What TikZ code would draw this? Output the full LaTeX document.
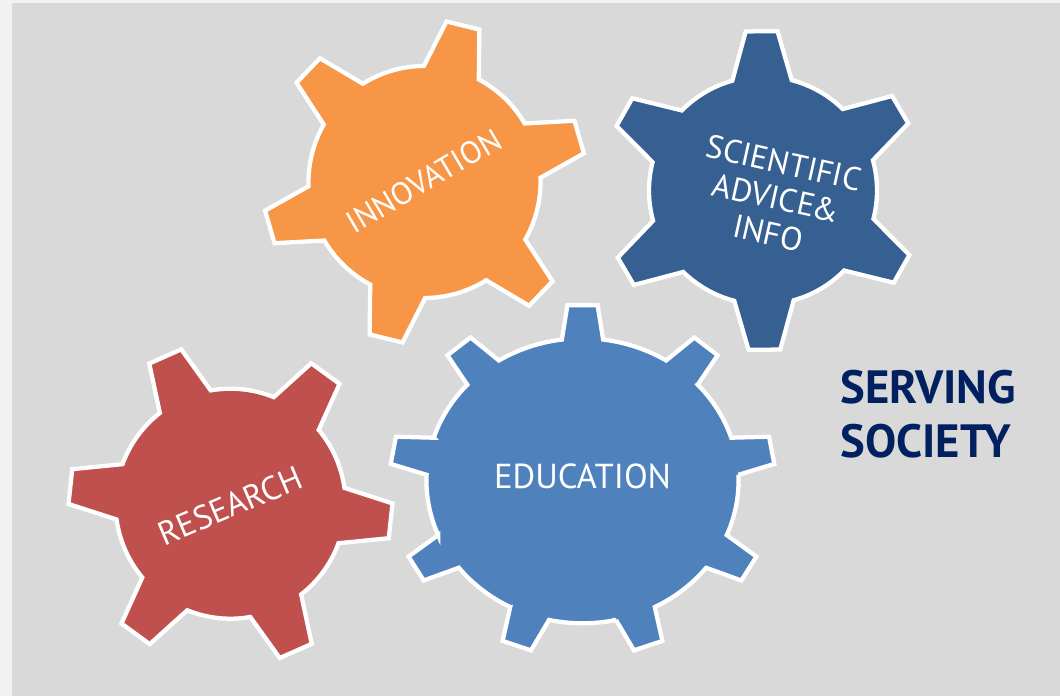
\documentclass[tikz,border=0pt]{standalone}
\usepackage{fontspec}
\setmainfont{PT Sans}
\definecolor{outerbg}{HTML}{F2F2F2}
\definecolor{innerbg}{HTML}{D9D9D9}
\definecolor{gorange}{HTML}{F79646}
\definecolor{gdark}{HTML}{366092}
\definecolor{gred}{HTML}{C0504D}
\definecolor{glight}{HTML}{4F81BD}
\definecolor{navy}{HTML}{002060}
% #1 colour, #2 rin, #3 rout, #4 teeth, #5 start angle, #6 base half angle, #7 tip half angle
\newcommand{\geardraw}[7]{%
  \path[draw=white, line width=3.2pt, line join=miter, fill=#1]
    ({#5-#6}:#2)
    \foreach \i [evaluate=\i as \a using #5+\i*360/#4] in {0,...,\numexpr#4-1\relax} {
      -- ({\a-#6}:#2) -- ({\a-#7}:#3) -- ({\a+#7}:#3) -- ({\a+#6}:#2)
      arc[start angle={\a+#6}, end angle={\a+360/#4-#6}, radius=#2]
    } -- cycle;}
\tikzset{
  gearlabel/.style={text=white, inner sep=0pt, align=center},
  servetext/.style={text=navy, inner sep=0pt, font=\fontsize{35}{40}\selectfont\bfseries, anchor=base west}
}
\begin{document}
\begin{tikzpicture}[x=0.75pt, y=0.75pt]
\useasboundingbox (0,0) rectangle (1060,696);
\fill[outerbg] (0,0) rectangle (1060,696);
\fill[innerbg] (12,0) rectangle (1060,693);
% innovation gear
\begin{scope}[shift={(424.5,514)}]
  \geardraw{gorange}{116}{162}{6}{16.2}{14.1}{6}
\end{scope}
% scientific gear
\begin{scope}[shift={(763,505.5)}]
  \geardraw{gdark}{114}{160}{6}{30.5}{15.1}{5.7}
\end{scope}
% research gear
\begin{scope}[shift={(230.5,192.3)}]
  \geardraw{gred}{115}{162}{6}{-6.1}{14}{6.2}
\end{scope}
% education gear
\begin{scope}[shift={(582.5,215.2)}, xscale=1.095]
  \geardraw{glight}{142.5}{176}{9}{10}{7.6}{4.5}
\end{scope}
\node[gearlabel, rotate=30.5, font=\fontsize{23.5}{28}\selectfont] (innov) at (424,515) {INNOVATION};
\node[gearlabel, rotate=-12.5, font=\fontsize{24.5}{27}\selectfont] (sci) at (776,498) {SCIENTIFIC\\ADVICE\kern-1.5pt\&\\INFO};
\node[gearlabel, rotate=23, font=\fontsize{25}{29}\selectfont] (res) at (230,190) {RESEARCH};
\node[gearlabel, anchor=base, font=\fontsize{26}{30}\selectfont] (edu) at (582.5,207.7) {EDUCATION};
\node[servetext] (serve1) at (840,292) {SERVING};
\node[servetext] (serve2) at (840,238.7) {SOCIETY};
\end{tikzpicture}
\end{document}
